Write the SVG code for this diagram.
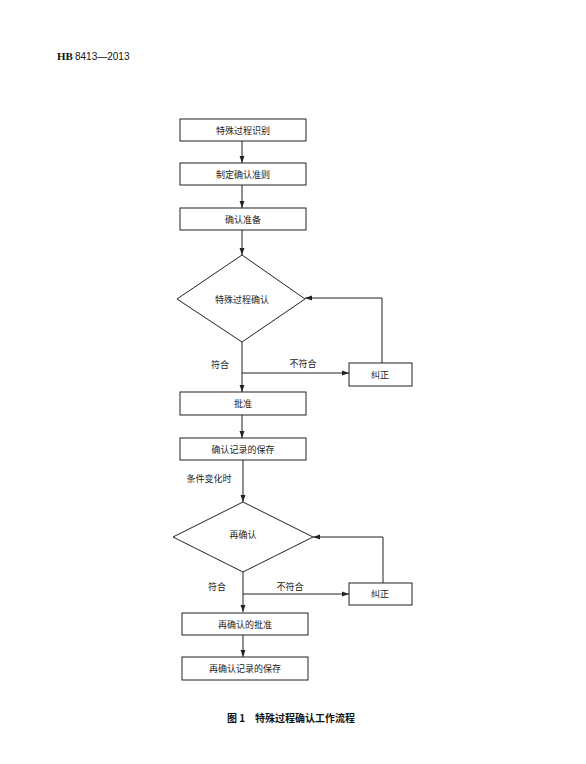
<svg xmlns="http://www.w3.org/2000/svg" width="586" height="764" viewBox="0 0 586 764">
<style>
.n{fill:#fff;stroke:#222;stroke-width:1}
.c{fill:none;stroke:#222;stroke-width:1}
.t{font-family:"Noto Sans CJK SC","Liberation Serif",serif;font-size:9px;fill:#222;text-anchor:middle;dominant-baseline:central}
</style>
<defs>
<marker id="a" viewBox="0 0 10 10" refX="10" refY="5" markerWidth="7" markerHeight="7" markerUnits="userSpaceOnUse" orient="auto">
<path d="M0,1.5 L10,5 L0,8.5 Z" fill="#222"/>
</marker>
</defs>
<rect width="586" height="764" fill="#fff"/>
<g id="header">
<text x="57" y="60" style="font-family:'Liberation Serif',serif;font-weight:bold;font-size:11px;fill:#111">HB</text>
<text x="75" y="60" style="font-family:'Liberation Sans',sans-serif;font-size:10px;fill:#111">8413—2013</text>
</g>
<g id="connectors">
<line class="c" x1="242" y1="141" x2="242" y2="163" marker-end="url(#a)"/>
<line class="c" x1="242" y1="185" x2="242" y2="208" marker-end="url(#a)"/>
<line class="c" x1="242" y1="230" x2="242" y2="255" marker-end="url(#a)"/>
<line class="c" x1="242" y1="342" x2="242" y2="392" marker-end="url(#a)"/>
<line class="c" x1="242" y1="373" x2="349" y2="373" marker-end="url(#a)"/>
<polyline class="c" points="382,363 382,298 305,298" marker-end="url(#a)"/>
<line class="c" x1="242" y1="415" x2="242" y2="438" marker-end="url(#a)"/>
<line class="c" x1="243" y1="460" x2="243" y2="502" marker-end="url(#a)"/>
<line class="c" x1="243" y1="572" x2="243" y2="612" marker-end="url(#a)"/>
<line class="c" x1="243" y1="594" x2="349" y2="594" marker-end="url(#a)"/>
<polyline class="c" points="383,583 383,537 313,537" marker-end="url(#a)"/>
<line class="c" x1="243" y1="635" x2="243" y2="657" marker-end="url(#a)"/>
<text class="t" x="220" y="364">符合</text>
<text class="t" x="303" y="363">不符合</text>
<text class="t" x="209" y="478">条件变化时</text>
<text class="t" x="217" y="586">符合</text>
<text class="t" x="290" y="586">不符合</text>
</g>
<g id="n1"><rect class="n" x="180" y="119" width="126" height="22"/><text class="t" x="243" y="130">特殊过程识别</text></g>
<g id="n2"><rect class="n" x="180" y="163" width="126" height="22"/><text class="t" x="243" y="174">制定确认准则</text></g>
<g id="n3"><rect class="n" x="180" y="208" width="126" height="22"/><text class="t" x="243" y="219">确认准备</text></g>
<g id="d1"><polygon class="n" points="242,255 305,299 242,342 177,299"/><text class="t" x="242" y="299">特殊过程确认</text></g>
<g id="f1"><rect class="n" x="349" y="363" width="63" height="23"/><text class="t" x="380" y="374">纠正</text></g>
<g id="n4"><rect class="n" x="180" y="392" width="126" height="23"/><text class="t" x="243" y="403">批准</text></g>
<g id="n5"><rect class="n" x="180" y="438" width="126" height="22"/><text class="t" x="243" y="449">确认记录的保存</text></g>
<g id="d2"><polygon class="n" points="243,502 313,537 243,572 173,537"/><text class="t" x="243" y="534">再确认</text></g>
<g id="f2"><rect class="n" x="349" y="583" width="63" height="22"/><text class="t" x="380" y="593">纠正</text></g>
<g id="n6"><rect class="n" x="182" y="613" width="126" height="22"/><text class="t" x="245" y="624">再确认的批准</text></g>
<g id="n7"><rect class="n" x="182" y="657" width="126" height="23"/><text class="t" x="245" y="668">再确认记录的保存</text></g>
<g id="caption">
<text x="291" y="717" style="font-family:'Noto Sans CJK SC',sans-serif;font-weight:bold;font-size:10px;fill:#111;text-anchor:middle;dominant-baseline:central">图 1　特殊过程确认工作流程</text>
</g>
</svg>
